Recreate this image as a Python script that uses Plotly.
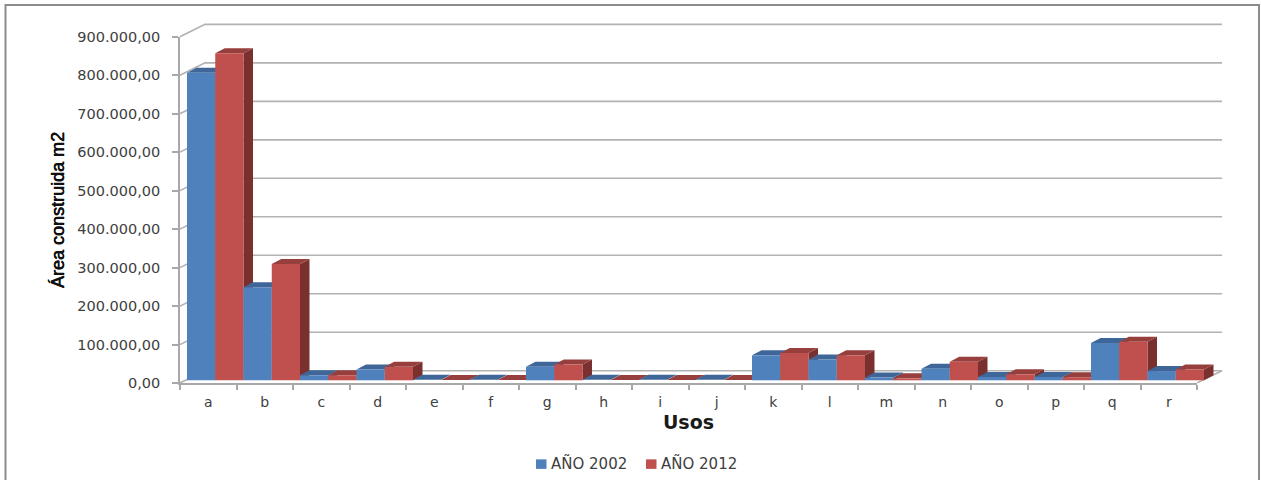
import plotly.graph_objects as go

# Built-up area per land use, in square metres
USOS = list("abcdefghijklmnopqr")
ANIO_2002 = [799000, 242000, 13000, 28000, 1500, 1500, 35000, 1500, 1500, 1500,
             65000, 54000, 7000, 30000, 8700, 8700, 97000, 24000]
ANIO_2012 = [850000, 302000, 13000, 35000, 1000, 1000, 41000, 1000, 1000, 1000,
             71000, 65000, 5000, 48000, 15600, 8000, 100000, 28000]
Y_TICKS = [0, 100000, 200000, 300000, 400000, 500000, 600000, 700000, 800000, 900000]
Y_LABELS = ["0,00", "100.000,00", "200.000,00", "300.000,00", "400.000,00",
            "500.000,00", "600.000,00", "700.000,00", "800.000,00", "900.000,00"]

# Front plane of the axes, and the larger box that also holds the receding walls (pixels)
W, H = 1261, 480
LEFT, RIGHT, TOP, BOTTOM = 180.0, 1197.0, 36.7, 382.7
BOX_RIGHT, BOX_TOP = 1230.0, 20.0
PX_X = (RIGHT - LEFT) / len(USOS)
PX_Y = (BOTTOM - TOP) / 900000


def xu(px):
    return px / PX_X


def yu(px):
    return px / PX_Y


# Oblique projection: wall depth, bar depth and bar placement on the floor
WALL_DX, WALL_DY = xu(25), yu(12.3)
BAR_DX, BAR_DY = xu(9.5), yu(5)
BAR_SHIFT, BAR_BASE = xu(7), yu(2.7)
BAR_W = 0.5

SERIES = [
    ("AÑO 2002", ANIO_2002, "#4F81BD", "#3E6698", "#385D8A"),
    ("AÑO 2012", ANIO_2012, "#C0504D", "#963F3D", "#7A302E"),
]
GRID = "#B2B2B2"
AXIS = "#A8A8A8"
TEXT = "#404040"

fig = go.Figure()

# The front axes carry the ticks and labels; the trace keeps them on the page
fig.add_trace(go.Scatter(x=[0], y=[0], mode="markers", marker=dict(opacity=0), showlegend=False,
                         hoverinfo="skip", xaxis="x", yaxis="y"))

# Gridlines running along the side wall and the back wall
gx, gy = [], []
for t in Y_TICKS:
    gx += [0, WALL_DX, len(USOS) + WALL_DX, None]
    gy += [t, t + WALL_DY, t + WALL_DY, None]
# Right edge of the floor
gx += [len(USOS), len(USOS) + WALL_DX]
gy += [0, WALL_DY]
fig.add_trace(go.Scatter(x=gx, y=gy, mode="lines", showlegend=False, hoverinfo="skip",
                         line=dict(color=GRID, width=1.6), xaxis="x2", yaxis="y2"))


def face(xs, ys, color, name=None):
    fig.add_trace(go.Scatter(x=xs, y=ys, mode="lines", fill="toself", fillcolor=color,
                             line=dict(width=0, color=color), showlegend=False, name=name,
                             hoverinfo="name" if name else "skip", xaxis="x2", yaxis="y2"))


# Bars are painted left to right so that nearer faces cover farther ones
for i in range(len(USOS)):
    for s, (name, values, front, top, side) in enumerate(SERIES):
        x0 = i + BAR_SHIFT + s * BAR_W
        x1 = x0 + BAR_W
        b = BAR_BASE
        t = BAR_BASE + values[i]
        face([x1, x1 + BAR_DX, x1 + BAR_DX, x1, x1], [b, b + BAR_DY, t + BAR_DY, t, b], side)
        face([x0, x1, x1 + BAR_DX, x0 + BAR_DX, x0], [t, t, t + BAR_DY, t + BAR_DY, t], top)
        face([x0, x1, x1, x0, x0], [b, b, t, t, b], front, name)


def px_x(p):
    return (p - LEFT) / (BOX_RIGHT - LEFT)


def px_y(p):
    return (BOTTOM - p) / (BOTTOM - BOX_TOP)


shapes = [dict(type="rect", xref="paper", yref="paper", layer="below",
               x0=px_x(5.5), x1=px_x(1259), y0=px_y(495), y1=px_y(5),
               line=dict(color="#8C8C8C", width=2), fillcolor="white")]
annotations = []
# Legend row
for (name, _, front, _, _), sw in zip(SERIES, (536, 646)):
    shapes.append(dict(type="rect", xref="paper", yref="paper", x0=px_x(sw), x1=px_x(sw + 10.5),
                       y0=px_y(468.5), y1=px_y(459), line=dict(width=0), fillcolor=front))
    annotations.append(dict(text=name, xref="paper", yref="paper", x=px_x(sw + 12.5), y=px_y(463.5),
                            xanchor="left", yanchor="middle", showarrow=False,
                            font=dict(family="DejaVu Sans", size=15, color=TEXT)))

fig.update_layout(
    width=W, height=H, autosize=False,
    margin=dict(l=LEFT, r=W - BOX_RIGHT, t=BOX_TOP, b=H - BOTTOM, pad=0, autoexpand=False),
    paper_bgcolor="white", plot_bgcolor="rgba(0,0,0,0)",
    showlegend=False, shapes=shapes, annotations=annotations,
    xaxis=dict(
        domain=[0, px_x(RIGHT)],
        range=[0, len(USOS)], tickmode="array",
        tickvals=[i + 0.5 for i in range(len(USOS))], ticktext=USOS,
        ticks="", showgrid=False, zeroline=False, showline=True,
        linecolor=AXIS, linewidth=2, ticklabelstandoff=5,
        tickfont=dict(family="DejaVu Sans", size=14, color=TEXT),
        minor=dict(tickmode="array", tickvals=list(range(len(USOS) + 1)), ticks="outside",
                   ticklen=5, tickcolor=AXIS, tickwidth=1.5, showgrid=False),
        title=dict(text="<b>Usos</b>", standoff=7,
                   font=dict(family="DejaVu Sans", size=19, color="#1A1A1A")),
    ),
    yaxis=dict(
        domain=[0, px_y(TOP)],
        range=[0, 900000], tickmode="array", tickvals=Y_TICKS, ticktext=Y_LABELS,
        ticks="outside", ticklen=6, tickcolor=AXIS, tickwidth=1.5,
        showgrid=False, zeroline=False, showline=True, linecolor=AXIS, linewidth=1.6,
        ticklabelstandoff=9,
        tickfont=dict(family="DejaVu Sans", size=14.5, color=TEXT),
        title=dict(text="Área construida m2", standoff=8,
                   font=dict(family="Liberation Sans", size=18, color="#111111",
                             shadow="0.35px 0 0 #111111, -0.35px 0 0 #111111")),
    ),
    # Same scale as the front axes, extended over the depth of the walls
    xaxis2=dict(domain=[0, 1], range=[0, xu(BOX_RIGHT - LEFT)], visible=False, anchor="y2"),
    yaxis2=dict(domain=[0, 1], range=[0, yu(BOTTOM - BOX_TOP)], visible=False, anchor="x2"),
)

fig.write_html("out.html")
